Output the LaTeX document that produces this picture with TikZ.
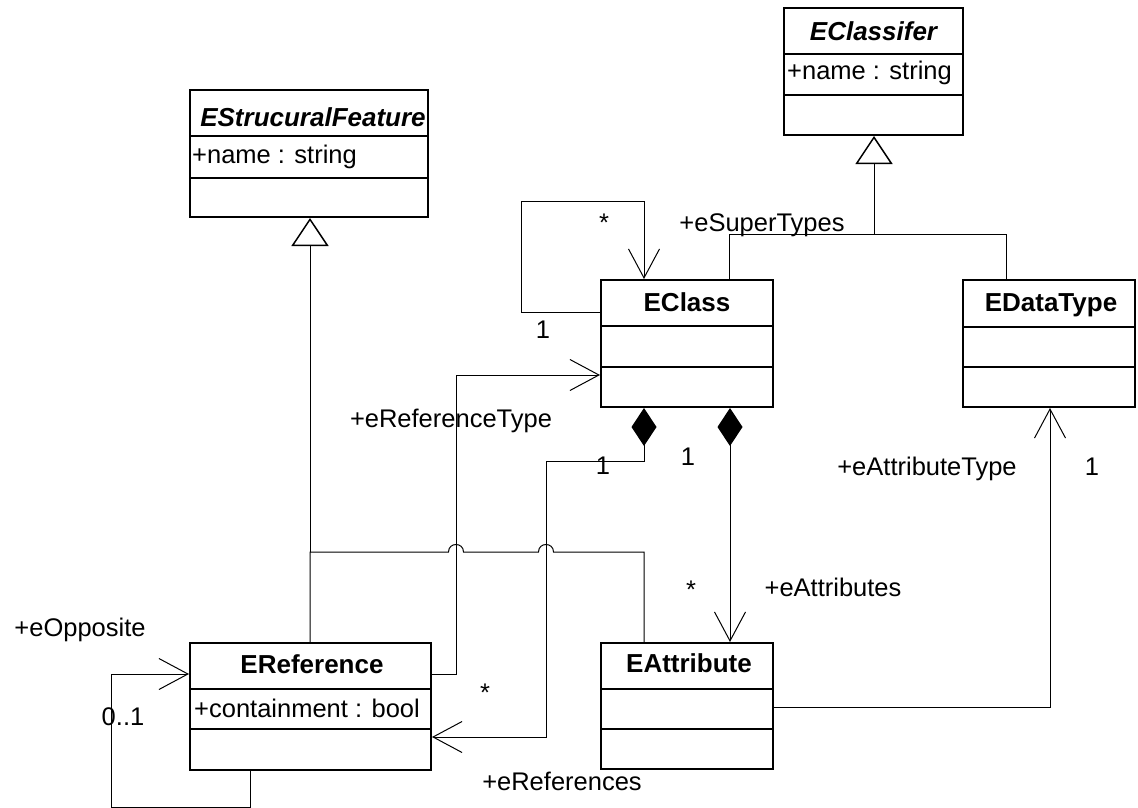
\documentclass[tikz,border=0pt]{standalone}
\usepackage{fontspec}
\setmainfont{Liberation Sans}
\usetikzlibrary{arrows.meta}
\begin{document}
\begin{tikzpicture}[x=1pt,y=-1pt,
  cls/.style={draw,line width=2pt,inner sep=0pt,rectangle},
  sep/.style={line width=2pt},
  conn/.style={line width=1pt},
  txt/.style={font=\fontsize{25.5}{30}\selectfont,inner sep=0pt,anchor=base},
  ttl/.style={txt,font=\fontsize{26}{30}\selectfont\bfseries},
  attl/.style={txt,font=\fontsize{26}{30}\selectfont\bfseries\itshape},
  attr/.style={txt,anchor=base west},
  nav/.style={conn,-{Straight Barb[length=29pt,width=31pt,line width=1pt]}},
  gen/.style={conn,-{Triangle[open,length=28pt,width=37pt,line width=1.5pt]}},
  comp/.style={conn,{Diamond[length=38pt,width=25pt]}-{Straight Barb[length=29pt,width=31pt,line width=1pt]}}]
\useasboundingbox (0,0) rectangle (1138,808);
\fill[white] (0,0) rectangle (1138,808);
% column coordinates
\coordinate (c250) at (250,0);
\coordinate (c310) at (310,0);
\coordinate (c644) at (644,0);
\coordinate (c729) at (729,0);
\coordinate (c730) at (730,0);
\coordinate (c874) at (874,0);
\coordinate (c1006) at (1006,0);
\coordinate (c1050) at (1050,0);
% classes
\node[cls,minimum width=238pt,minimum height=127pt] (esf) at (309,153.5) {};
\draw[sep] (esf.west |- 0,136) -- (esf.east |- 0,136);
\draw[sep] (esf.west |- 0,178) -- (esf.east |- 0,178);
\node[attl] (esft) at (313,126) {EStrucuralFeature};
\node[attr] (esfa) at (192,163) {+name : string};

\node[cls,minimum width=179pt,minimum height=127pt] (ecf) at (873.5,71.5) {};
\draw[sep] (ecf.west |- 0,54) -- (ecf.east |- 0,54);
\draw[sep] (ecf.west |- 0,95) -- (ecf.east |- 0,95);
\node[attl] (ecft) at (873.5,41) {EClassifer};
\node[attr] (ecfa) at (787,80) {+name : string};

\node[cls,minimum width=172pt,minimum height=127pt] (ecl) at (687,343.5) {};
\draw[sep] (ecl.west |- 0,326) -- (ecl.east |- 0,326);
\draw[sep] (ecl.west |- 0,367) -- (ecl.east |- 0,367);
\node[ttl] (eclt) at (687,311) {EClass};

\node[cls,minimum width=172pt,minimum height=127pt] (edt) at (1049,343.5) {};
\draw[sep] (edt.west |- 0,327) -- (edt.east |- 0,327);
\draw[sep] (edt.west |- 0,367) -- (edt.east |- 0,367);
\node[ttl] (edtt) at (1051,311) {EDataType};

\node[cls,minimum width=241pt,minimum height=127pt] (erf) at (310.5,706.5) {};
\draw[sep] (erf.west |- 0,689) -- (erf.east |- 0,689);
\draw[sep] (erf.west |- 0,729) -- (erf.east |- 0,729);
\node[ttl] (erft) at (312,673) {EReference};
\node[attr] (erfa) at (194,717) {+containment : bool};

\node[cls,minimum width=172pt,minimum height=126pt] (eat) at (687,706) {};
\draw[sep] (eat.west |- 0,689) -- (eat.east |- 0,689);
\draw[sep] (eat.west |- 0,729) -- (eat.east |- 0,729);
\node[ttl] (eatt) at (689,672) {EAttribute};

% generalization EStrucuralFeature
\draw[conn] (erf.north -| c310) -- (310,552) -- (448.5,552)
  .. controls (448.5,542) and (463.5,542) .. (463.5,552) -- (538.5,552)
  .. controls (538.5,542) and (553.5,542) .. (553.5,552) -- (644,552)
  -- (eat.north -| c644);
\draw[gen] (310,552) -- (esf.south -| c310);
% generalization EClassifer
\draw[conn] (ecl.north -| c729) -- (729,234) -- (1006,234) -- (edt.north -| c1006);
\draw[gen] (874,234) -- (ecf.south -| c874);
% EClass self loop
\draw[nav] (ecl.west |- 0,312) -- (521,312) -- (521,201) -- (644,201) -- (ecl.north -| c644);
% eReferenceType
\draw[nav] (erf.east |- 0,674) -- (456,674) -- (456,375) -- (ecl.west |- 0,375);
% eReferences
\draw[comp] (ecl.south -| c644) -- (644,461) -- (546,461) -- (546,737) -- (erf.east |- 0,737);
% eAttributes
\draw[comp] (ecl.south -| c730) -- (eat.north -| c730);
% eAttributeType
\draw[nav] (eat.east |- 0,707) -- (1050,707) -- (edt.south -| c1050);
% eOpposite
\draw[nav] (erf.south -| c250) -- (250,807) -- (111,807) -- (111,674) -- (erf.west |- 0,674);

% labels
\node[txt] (lsup) at (762,231) {+eSuperTypes};
\node[txt] (lst1) at (604,231) {*};
\node[txt] (l1a) at (543,338) {1};
\node[txt] (lreft) at (451,427) {+eReferenceType};
\node[txt] (l1b) at (603,474) {1};
\node[txt] (l1c) at (688,465) {1};
\node[txt] (latt) at (927,475) {+eAttributeType};
\node[txt] (l1d) at (1092,475) {1};
\node[txt] (lst2) at (691,598) {*};
\node[txt] (lattr) at (833,596) {+eAttributes};
\node[txt] (lopp) at (80,636) {+eOpposite};
\node[txt] (l01) at (123,725) {0..1};
\node[txt] (lst3) at (485,701) {*};
\node[txt] (lrefs) at (562,790) {+eReferences};
\end{tikzpicture}
\end{document}
